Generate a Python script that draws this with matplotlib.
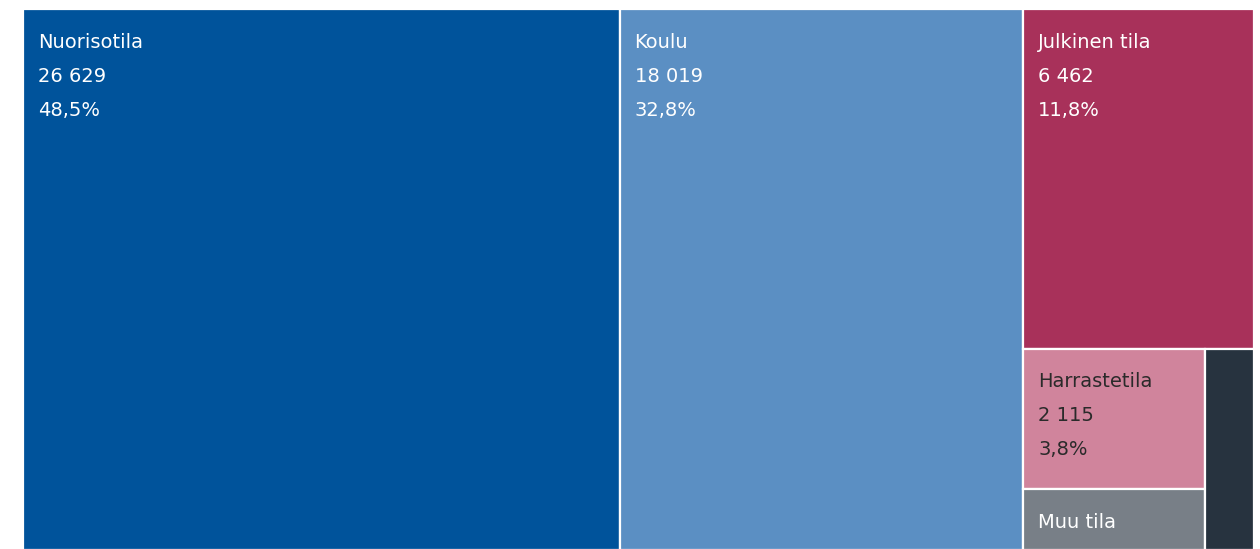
import matplotlib
matplotlib.use("Agg")
import matplotlib.pyplot as plt
from matplotlib.patches import Rectangle

# data
labels = ["Nuorisotila", "Koulu", "Julkinen tila", "Harrastetila", "Muu tila", "Muu"]
values = [26629, 18019, 6462, 2115, 910, 810]
colors = ["#00539b", "#5b8fc3", "#a8315a", "#d0849c", "#787f87", "#27333f"]
text_colors = ["white", "white", "white", "#2a2a2a", "white", "white"]

total = sum(values)


def split(x, y, w, h, vals, along_x):
    """cut a rectangle into pieces proportional to vals"""
    s = float(sum(vals))
    rects = []
    for v in vals:
        if along_x:
            dw = w * v / s
            rects.append((x, y, dw, h))
            x += dw
        else:
            dh = h * v / s
            rects.append((x, y, w, dh))
            y += dh
    return rects


W, H = 1231.0, 541.0
rects = []
# three columns: Nuorisotila | Koulu | rest
rest = sum(values[2:])
cols = split(0, 0, W, H, [values[0], values[1], rest], True)
rects += cols[:2]
x, y, w, h = cols[2]
# rest: Julkinen tila on top, small ones below
top, bottom = split(x, y, w, h, [values[2], sum(values[3:])], False)
rects.append(top)
left, right = split(*bottom, [values[3] + values[4], values[5]], True)
rects += split(*left, [values[3], values[4]], False)
rects.append(right)

fig = plt.figure(figsize=(12.6, 5.49), dpi=100)
ax = fig.add_axes([23 / 1260, -1 / 549, W / 1260, H / 549])
ax.set_xlim(0, W)
ax.set_ylim(H, 0)
ax.axis("off")

for i, (rx, ry, rw, rh) in enumerate(rects):
    ax.add_patch(Rectangle((rx, ry), rw, rh, facecolor=colors[i],
                           edgecolor="white", linewidth=1.6))
    if rw < 80:
        continue
    pct = f"{values[i] / total * 100:.1f}%".replace(".", ",")
    num = f"{values[i]:,}".replace(",", " ")
    lines = [labels[i], num, pct]
    for j, t in enumerate(lines):
        ty = ry + 33 + j * 34
        if ty + 8 > ry + rh:
            break
        ax.text(rx + 15, ty, t, color=text_colors[i], fontsize=14,
                family="DejaVu Sans", va="center", ha="left")

fig.savefig("out.png", dpi=100)
